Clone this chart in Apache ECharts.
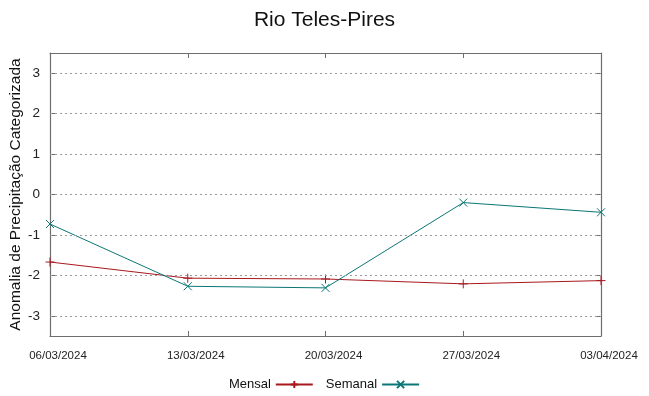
<!DOCTYPE html>
<html><head><meta charset="utf-8">
<script src="https://cdn.jsdelivr.net/npm/echarts@6/dist/echarts.min.js"></script>
<style>html,body{margin:0;padding:0;background:#fff}#c{width:649px;height:396px}</style>
</head><body><div id="c"></div>
<script>
const titleText = "Rio Teles-Pires";
const yAxisName = "Anomalia de Precipitação Categorizada";
const categories = ["06/03/2024","13/03/2024","20/03/2024","27/03/2024","03/04/2024"];
const mensal = [-1.67, -2.07, -2.09, -2.21, -2.13];
const semanal = [-0.73, -2.27, -2.31, -0.20, -0.44];
const yTicks = [-3, -2, -1, 0, 1, 2, 3];
const yMin = -3.5, yMax = 3.5;

const frameColor = '#6e6e6e';
const font = 'Liberation Sans, Arial, sans-serif';
const redColor = '#a8191e';
const tealColor = '#0b7676';
const plusPath = 'path://M5,0L5,10M0,5L10,5';
const crossPath = 'path://M0,0L10,10M10,0L0,10';

const chart = echarts.init(document.getElementById('c'), null, {renderer:'canvas'});
const tickCommon = {show:true, inside:true, length:5, lineStyle:{color:frameColor, width:1}};
const lineCommon = {show:true, onZero:false, lineStyle:{color:frameColor, width:1.2}};
chart.setOption({
  animation:false,
  backgroundColor:'#fff',
  title:{text:titleText, left:'center', top:5, textStyle:{fontFamily:font, fontSize:21, fontWeight:'normal', color:'#111'}},
  grid:{left:50, right:48, top:53, bottom:60, containLabel:false, outerBoundsMode:'none'},
  legend:{
    data:['Mensal','Semanal'], left:'center', top:373, align:'right',
    itemWidth:37, itemHeight:9, itemGap:12,
    textStyle:{fontFamily:font, fontSize:13, color:'#111'}
  },
  xAxis:[
    {type:'category', data:categories, boundaryGap:false, position:'bottom',
     axisLine:lineCommon,
     axisTick:Object.assign({alignWithLabel:true}, tickCommon),
     axisLabel:{fontFamily:font, fontSize:11.5, color:'#222', margin:14, padding:[0,0,0,16]},
     splitLine:{show:false}},
    {type:'category', data:categories, boundaryGap:false, position:'top',
     axisLine:lineCommon,
     axisTick:tickCommon, axisLabel:{show:false}, splitLine:{show:false}}
  ],
  yAxis:[
    {type:'value', min:yMin, max:yMax, position:'left',
     name:yAxisName, nameLocation:'middle', nameGap:26, nameRotate:90, nameMoveOverlap:false,
     nameTextStyle:{fontFamily:font, fontSize:15.5, color:'#111'},
     axisLine:lineCommon,
     axisTick:Object.assign({customValues:yTicks}, tickCommon),
     axisLabel:{customValues:yTicks, fontFamily:font, fontSize:13.5, color:'#222', margin:10},
     splitLine:{show:false}},
    {type:'value', min:yMin, max:yMax, position:'right',
     axisLine:lineCommon,
     axisTick:Object.assign({customValues:yTicks}, tickCommon),
     axisLabel:{show:false}, splitLine:{show:false}}
  ],
  series:[
    {name:'Mensal', type:'line', data:mensal, xAxisIndex:0, yAxisIndex:0,
     symbol:plusPath, symbolSize:9, showSymbol:true,
     lineStyle:{color:redColor, width:1},
     itemStyle:{color:redColor, borderColor:redColor, borderWidth:1},
     markLine:{silent:true, symbol:['none','none'], label:{show:false},
       lineStyle:{color:'#9a9a9a', type:[2,3], width:1},
       data:yTicks.map(v=>({yAxis:v}))},
     z:3},
    {name:'Semanal', type:'line', data:semanal, xAxisIndex:0, yAxisIndex:0,
     symbol:crossPath, symbolSize:8, showSymbol:true,
     lineStyle:{color:tealColor, width:1},
     itemStyle:{color:tealColor, borderColor:tealColor, borderWidth:1},
     z:4}
  ]
});
</script></body></html>
